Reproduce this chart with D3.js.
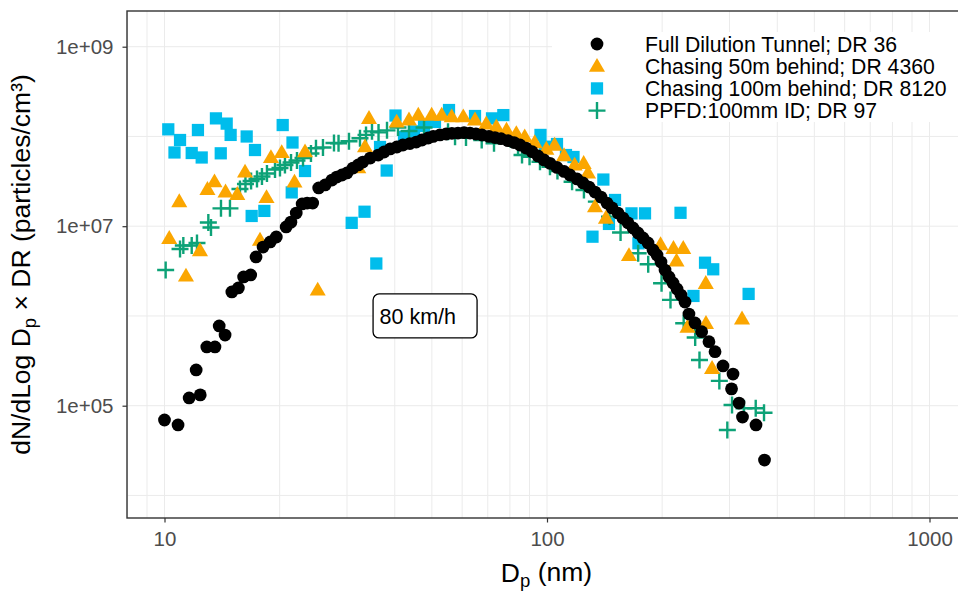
<!DOCTYPE html>
<html>
<head>
<meta charset="utf-8">
<script src="https://cdn.jsdelivr.net/npm/d3@7"></script>
<style>
  body { margin: 0; background: #fff; }
  svg { display: block; }
</style>
</head>
<body>
<div id="chart"></div>
<script>
// ---- data (Dp in nm, dN/dlogDp x DR in particles/cm3)
const fullDp = [10.0,10.85,11.6,12.4,12.1,12.9,13.55,13.9,14.4,15.0,
  15.6,16.1,16.8,17.35,18.1,18.9,19.6,20.8,21.4,22.1,
  22.9,23.6,24.4,25.3,26.3,27.4,28.2,29.1,30.0,31.1,
  32.1,33.0,34.5,36.2,37.5,38.9,40.5,42.0,43.8,45.5,
  47.1,48.9,50.4,52.5,54.5,56.4,58.5,60.7,62.9,65.2,
  67.6,70.5,73.1,75.8,79.1,82.0,85.0,88.1,91.4,94.7,
  98.2,101.8,106.2,110.8,114.8,119.8,124.2,128.8,133.5,138.4,
  143.5,147.9,153.3,158.0,162.8,167.8,172.9,178.2,183.7,189.3,
  193.9,198.6,203.5,208.4,213.5,218.7,224.0,229.5,235.0,243.7,
  253.7,265.1,275.0,288.5,306.4,303.7,317.7,324.4,351.9,370.4];
const fullN = [6.93e4,6.10e4,1.22e5,1.32e5,2.50e5,4.51e5,4.51e5,7.73e5,6.13e5,1.85e6,
  2.05e6,2.72e6,2.86e6,4.54e6,5.86e6,6.67e6,7.58e6,9.80e6,1.11e7,1.40e7,
  1.77e7,1.81e7,1.81e7,2.67e7,2.88e7,3.27e7,3.53e7,3.72e7,3.92e7,4.45e7,
  4.81e7,5.19e7,5.75e7,6.21e7,6.71e7,7.25e7,7.63e7,8.03e7,8.34e7,8.67e7,
  9.13e7,9.61e7,9.99e7,1.04e8,1.065e8,1.084e8,1.092e8,1.101e8,1.092e8,1.065e8,
  1.038e8,9.99e7,9.73e7,9.44e7,8.97e7,8.56e7,8.03e7,7.43e7,6.76e7,6.06e7,
  5.47e7,5.02e7,4.51e7,4.07e7,3.72e7,3.36e7,3.03e7,2.73e7,2.40e7,2.11e7,
  1.81e7,1.60e7,1.40e7,1.23e7,1.09e7,9.55e6,8.40e6,7.39e6,6.50e6,5.43e6,
  4.78e6,3.99e6,3.25e6,2.72e6,2.33e6,2.00e6,1.71e6,1.43e6,1.05e6,8.35e5,
  6.67e5,5.17e5,4.00e5,2.77e5,2.25e5,1.54e5,1.07e5,7.48e4,6.10e4,2.48e4];

const chase50Dp = [10.29,10.93,11.38,12.38,12.95,13.51,14.44,15.50,16.24,17.77,
  18.48,18.98,20.25,21.87,23.30,25.15,32.11,33.44,34.25,40.46,
  43.57,46.08,49.94,53.05,56.34,60.42,64.83,69.38,73.72,78.37,
  83.14,87.44,92.86,99.6,104.7,110.8,118.1,124.7,128.0,133.5,
  142.6,163.8,198.1,214.1,227.1,218.1,233.0,260.1,260.4,270.1,
  323.5];
const chase50N = [7.33e6,1.88e7,2.79e6,5.36e6,2.58e7,3.13e7,2.42e7,2.27e7,4.02e7,7.02e6,
  2.09e7,5.83e7,6.63e7,3.11e7,6.76e7,1.95e6,4.51e7,7.69e7,1.59e8,1.45e8,
  1.53e8,1.73e8,1.73e8,1.73e8,1.66e8,1.66e8,1.53e8,1.38e8,1.28e8,1.18e8,
  1.08e8,9.94e7,8.56e7,7.25e7,8.03e7,6.13e7,4.81e7,5.02e7,3.92e7,1.65e7,
  1.23e7,4.72e6,6.25e6,5.67e6,5.67e6,4.10e6,7.53e5,2.31e6,8.28e5,2.61e5,
  9.29e5];

const chase100Dp = [10.23,10.62,10.98,11.78,12.23,12.51,13.63,14.03,14.54,14.89,
  16.40,16.90,17.24,18.24,20.37,21.51,21.61,23.30,30.86,33.34,
  35.79,36.60,38.10,40.17,42.28,44.90,47.70,50.95,55.44,64.83,
  71.82,76.88,96.16,98.8,106.2,112.1,117.3,131.5,140.4,145.2,
  150.6,166.3,173.4,180.4,223.4,241.5,258.9,272.0,336.6];
const chase100N = [1.20e8,6.63e7,9.13e7,6.54e7,1.18e8,5.83e7,1.59e8,6.49e7,1.39e8,1.04e8,
  9.99e7,1.30e7,7.06e7,1.48e7,1.34e8,2.38e7,8.56e7,4.12e7,1.09e7,1.45e7,
  3.84e6,7.63e7,4.17e7,1.71e8,9.86e7,1.14e8,1.31e8,1.45e8,1.97e8,1.69e8,
  1.59e8,1.73e8,1.04e8,7.69e7,8.24e7,6.21e7,5.90e7,7.64e6,3.31e7,1.06e7,
  1.96e7,1.39e7,6.45e6,1.39e7,1.41e7,1.67e6,3.92e6,3.31e6,1.76e6];

const ppfdDp = [10.07,10.98,11.20,11.78,12.16,13.02,13.23,14.05,14.83,15.75,
  16.28,16.84,17.45,17.98,18.53,19.45,20.04,20.65,21.42,22.20,
  23.02,24.15,24.89,25.96,27.74,28.51,30.36,32.44,33.64,34.87,
  36.27,38.17,40.78,43.57,47.70,55.11,57.49,61.41,67.50,72.69,
  84.00,86.04,90.03,95.87,101.8,106.5,116.3,124.9,134.6,145.7,
  155.7,173.1,183.9,199.3,210.3,227.7,244.0,250.4,282.2,296.1,
  304.6,327.3,351.3,369.3];
const ppfdN = [3.25e6,5.57e6,6.10e6,6.10e6,6.50e6,1.10e7,9.67e6,1.58e7,1.58e7,2.60e7,
  2.95e7,3.19e7,3.36e7,3.58e7,3.87e7,4.28e7,4.45e7,4.81e7,5.13e7,5.40e7,
  5.75e7,6.46e7,7.38e7,7.53e7,8.45e7,8.39e7,8.85e7,9.54e7,1.04e8,1.14e8,
  1.11e8,1.17e8,1.26e8,1.15e8,1.26e8,1.13e8,9.94e7,9.73e7,9.13e7,8.39e7,
  7.69e7,6.21e7,5.95e7,5.23e7,4.60e7,4.12e7,3.13e7,2.53e7,1.88e7,1.28e7,
  8.51e6,4.99e6,3.77e6,2.31e6,1.51e6,8.28e5,5.75e5,3.23e5,1.89e5,5.36e4,
  1.02e5,9.36e4,9.36e4,8.36e4];

const seriesNames = ['Full Dilution Tunnel; DR 36', 'Chasing 50m behind; DR 4360',
  'Chasing 100m behind; DR 8120', 'PPFD:100mm ID; DR 97'];

// axis breaks
const xMajor = [10, 100, 1000];
const xMinor = [8, 9, 20, 30, 40, 50, 60, 70, 80, 90, 200, 300, 400, 500, 600, 700, 800, 900];
const yMajor = [1e5, 1e7, 1e9];
const yMinor = [1e4, 1e6, 1e8];
const yTickLabels = ['1e+05', '1e+07', '1e+09'];

const labelText = '80 km/h';
const labelAt = [48, 1e6];

// ---- layout
const W = 958, H = 591;
const FONT = '"Liberation Sans", Arial, Helvetica, sans-serif';
const margin = { left: 127, top: 11 };
const pw = 839, ph = 507; // panel runs past the right edge of the picture

const svg = d3.select('#chart').append('svg')
  .attr('width', W).attr('height', H)
  .style('font-family', FONT);

const g = svg.append('g').attr('transform', `translate(${margin.left},${margin.top})`);

const x = d3.scaleLog().domain([10, 1000]).range([37.5, 802.5]);
const y = d3.scaleLog().domain([1e5, 1e9]).range([394.7, 35.7]);

// gridlines (minor first, then major)
const grid = g.append('g');
grid.selectAll('.vx').data(xMinor.concat(xMajor)).enter().append('line')
  .attr('x1', d => x(d)).attr('x2', d => x(d))
  .attr('y1', 0).attr('y2', ph)
  .attr('stroke', '#ebebeb').attr('stroke-width', 1);
grid.selectAll('.hy').data(yMinor.concat(yMajor)).enter().append('line')
  .attr('x1', 0).attr('x2', pw)
  .attr('y1', d => y(d)).attr('y2', d => y(d))
  .attr('stroke', '#ebebeb').attr('stroke-width', 1);

// points, clipped to the panel
g.append('clipPath').attr('id', 'panel-clip')
  .append('rect').attr('width', pw).attr('height', ph);
const pts = g.append('g').attr('clip-path', 'url(#panel-clip)');

const pair = (xs, ys) => xs.map((d, i) => [d, ys[i]]).filter(d => d[1] != null);

const colBlue = '#00bdec', colGreen = '#0da277', colOrange = '#fba600';
const sq = d3.symbol().type(d3.symbolSquare).size(150)();
const tri = d3.symbol().type(d3.symbolTriangle).size(112)();
const circ = d3.symbol().type(d3.symbolCircle).size(128)();
const plus = 'M-8.5,0H8.5M0,-8.5V8.5';

pts.selectAll('.s100').data(pair(chase100Dp, chase100N)).enter().append('path')
  .attr('d', sq).attr('fill', colBlue)
  .attr('transform', d => `translate(${x(d[0])},${y(d[1])})`);

pts.selectAll('.sppfd').data(pair(ppfdDp, ppfdN)).enter().append('path')
  .attr('d', plus).attr('fill', 'none').attr('stroke', colGreen).attr('stroke-width', 2.4)
  .attr('transform', d => `translate(${x(d[0])},${y(d[1])})`);

pts.selectAll('.s50').data(pair(chase50Dp, chase50N)).enter().append('path')
  .attr('d', tri).attr('fill', colOrange)
  .attr('transform', d => `translate(${x(d[0])},${y(d[1]) + 1})`);

pts.selectAll('.sfull').data(pair(fullDp, fullN)).enter().append('path')
  .attr('d', circ).attr('fill', '#000')
  .attr('transform', d => `translate(${x(d[0])},${y(d[1])})`);

// annotation label
const lx = x(labelAt[0]), ly = y(labelAt[1]);
const lab = g.append('g');
lab.append('rect')
  .attr('x', lx - 52).attr('y', ly - 22).attr('width', 104).attr('height', 44)
  .attr('rx', 6).attr('fill', '#fff').attr('stroke', '#000').attr('stroke-width', 1.3);
lab.append('text')
  .attr('x', lx - 45.5).attr('y', ly).attr('dy', '0.36em')
  .attr('font-size', 21.5).attr('fill', '#000').text(labelText);

// legend (inside the panel, top right, white background)
const legend = g.append('g');
legend.append('rect').attr('x', 425).attr('y', 21).attr('width', 420).attr('height', 90)
  .attr('fill', '#fff');
const keys = [
  { d: circ, fill: '#000' },
  { d: tri, fill: colOrange },
  { d: sq, fill: colBlue },
  { d: plus, stroke: colGreen }
];
const rows = legend.selectAll('.legend').data(seriesNames).enter().append('g')
  .attr('class', 'legend')
  .attr('transform', (d, i) => `translate(470,${33 + i * 22.2})`);
rows.append('path')
  .attr('d', (d, i) => keys[i].d)
  .attr('fill', (d, i) => keys[i].fill || 'none')
  .attr('stroke', (d, i) => keys[i].stroke || 'none')
  .attr('stroke-width', 2.4)
  .attr('transform', (d, i) => i === 1 ? 'translate(0,1)' : null);
rows.append('text')
  .attr('x', 48).attr('dy', '0.36em')
  .attr('font-size', 21.2).attr('fill', '#000')
  .text(d => d);

// panel border
g.append('rect').attr('width', pw).attr('height', ph)
  .attr('fill', 'none').attr('stroke', '#333').attr('stroke-width', 1.4);

// axes
const xAxis = g.append('g').attr('transform', `translate(0,${ph})`)
  .call(d3.axisBottom(x).tickValues(xMajor).tickFormat(d3.format('d')).tickSize(4.5).tickPadding(9));
xAxis.select('.domain').remove();
xAxis.attr('font-family', FONT).attr('font-size', 20.5);
xAxis.selectAll('line').attr('stroke', '#333').attr('stroke-width', 1.2);
xAxis.selectAll('text').attr('fill', '#4d4d4d');

const yAxis = g.append('g')
  .call(d3.axisLeft(y).tickValues(yMajor).tickFormat((d, i) => yTickLabels[i]).tickSize(4.5).tickPadding(9));
yAxis.select('.domain').remove();
yAxis.attr('font-family', FONT).attr('font-size', 20.5);
yAxis.selectAll('line').attr('stroke', '#333').attr('stroke-width', 1.2);
yAxis.selectAll('text').attr('fill', '#4d4d4d');

// axis titles
const xt = svg.append('text')
  .attr('x', margin.left + pw / 2).attr('y', 581.5)
  .attr('text-anchor', 'middle').attr('font-size', 26.5).attr('fill', '#000');
xt.append('tspan').text('D');
xt.append('tspan').attr('font-size', 18.5).attr('dy', '0.3em').text('p');
xt.append('tspan').attr('dy', '-0.22em').text(' (nm)');

const yt = svg.append('text')
  .attr('transform', `translate(30,${margin.top + ph / 2}) rotate(-90)`)
  .attr('text-anchor', 'middle').attr('font-size', 26.5).attr('fill', '#000');
yt.append('tspan').text('dN/dLog D');
yt.append('tspan').attr('font-size', 18.5).attr('dy', '0.3em').text('p');
yt.append('tspan').attr('dy', '-0.22em').text(' × DR (particles/cm³)');
</script>
</body>
</html>
